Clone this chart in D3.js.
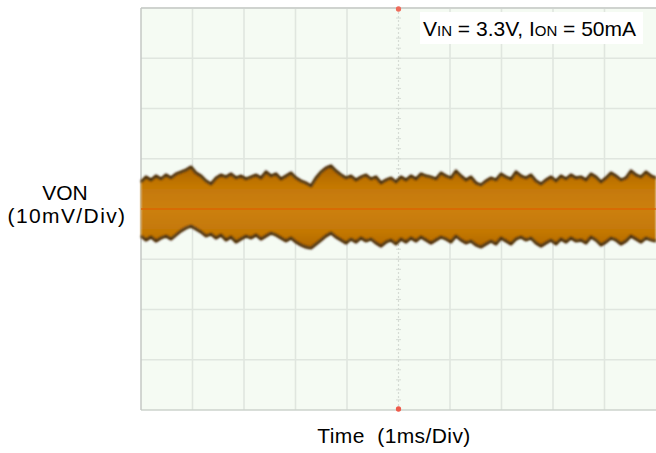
<!DOCTYPE html>
<html>
<head>
<meta charset="utf-8">
<script src="https://cdn.jsdelivr.net/npm/d3@7"></script>
<style>
  html, body { margin: 0; padding: 0; background: #ffffff; }
  svg { display: block; }
  text { font-family: "Liberation Sans", Arial, sans-serif; fill: #000; }
</style>
</head>
<body>
<svg id="chart" width="656" height="453"></svg>
<script>
// Scope screen: 10 horizontal divisions (1 ms/div), 8 vertical divisions (10 mV/div)
const timeDivs = d3.range(0, 11);            // ms
const voltDivs = d3.range(-40, 41, 10);      // mV

// Output ripple envelope (mV, AC-coupled), sampled evenly across the 10 ms sweep
const upperEnvelope = [
  5.4, 6.4, 5.8, 6.6, 6.0, 6.8, 6.2, 7.0, 7.4, 7.8, 8.4, 7.2, 6.6, 5.6, 5.0, 6.2,
  6.8, 6.4, 7.0, 6.2, 6.6, 6.0, 6.4, 6.8, 6.2, 7.4, 6.6, 7.0, 6.0, 6.6, 7.2, 6.2,
  5.6, 5.2, 4.6, 6.2, 7.4, 8.2, 8.6, 7.6, 6.8, 6.2, 6.6, 5.8, 6.4, 6.8, 6.0, 6.4,
  5.2, 5.8, 6.2, 5.4, 6.4, 5.8, 6.6, 6.0, 7.0, 6.6, 6.4, 6.0, 7.2, 6.6, 6.2, 7.6,
  6.6, 5.8, 6.4, 5.2, 4.8, 5.6, 6.2, 5.8, 7.0, 6.4, 6.0, 7.4, 6.6, 6.2, 6.8, 5.6,
  5.0, 5.8, 6.4, 5.6, 6.6, 6.0, 6.8, 6.2, 6.4, 5.8, 7.0, 6.4, 5.4, 6.2, 7.2, 6.6,
  5.8, 6.2, 7.6, 6.8, 6.4, 7.4, 6.6, 6.2
];
const lowerEnvelope = [
  -5.4, -6.2, -5.6, -6.4, -5.8, -5.4, -6.0, -5.2, -4.4, -3.8, -3.4, -4.0, -4.6, -5.4, -5.0, -5.8,
  -5.2, -6.2, -5.6, -6.6, -6.0, -5.4, -5.8, -5.2, -6.0, -5.4, -4.8, -5.2, -5.8, -6.4, -5.8, -6.6,
  -7.2, -7.6, -7.8, -7.0, -6.2, -5.4, -4.8, -5.6, -6.2, -6.8, -6.0, -6.6, -5.8, -6.4, -6.0, -6.8,
  -7.4, -6.6, -6.2, -7.0, -6.0, -6.6, -5.8, -6.4, -5.6, -6.2, -6.8, -6.2, -5.6, -6.0, -6.6, -5.4,
  -6.2, -6.8, -6.4, -7.2, -7.6, -7.0, -6.4, -7.0, -5.8, -6.4, -7.0, -6.0, -5.6, -6.2, -5.8, -6.8,
  -7.4, -6.8, -6.2, -7.0, -6.0, -6.6, -5.8, -6.4, -6.2, -6.8, -5.6, -6.2, -7.2, -6.6, -5.8, -6.2,
  -7.0, -6.4, -5.4, -6.0, -6.6, -5.8, -6.2, -6.4
];

const yLabelLines = ["VON", "(10mV/Div)"];
const xLabel = "Time  (1ms/Div)";

const svg = d3.select("#chart");
const plot = { left: 141, right: 656, top: 8, bottom: 410 };

const x = d3.scaleLinear().domain([0, 10]).range([plot.left, plot.right]);
const y = d3.scaleLinear().domain([-40, 40]).range([plot.bottom, plot.top]);
const n = upperEnvelope.length;
const tAt = d3.scaleLinear().domain([0, n - 1]).range([0, 10]);

const defs = svg.append("defs");
const soft = defs.append("filter").attr("id", "soft")
  .attr("x", "-5%").attr("y", "-20%").attr("width", "110%").attr("height", "140%");
soft.append("feGaussianBlur").attr("stdDeviation", 0.8);

const grad = defs.append("linearGradient").attr("id", "bandFill")
  .attr("gradientUnits", "userSpaceOnUse")
  .attr("x1", 0).attr("x2", 0).attr("y1", y(9)).attr("y2", y(-9));
[[0, "#a96200"], [0.25, "#c47806"], [0.5, "#cc800c"], [0.75, "#c47806"], [1, "#a96200"]]
  .forEach(([o, c]) => grad.append("stop").attr("offset", o).attr("stop-color", c));

// Screen background
svg.append("rect")
  .attr("x", plot.left).attr("y", plot.top)
  .attr("width", plot.right - plot.left).attr("height", plot.bottom - plot.top)
  .attr("fill", "#f5fbf3");

// Graticule
const grid = svg.append("g").attr("stroke", "#e0e6df").attr("stroke-width", 1.6);
grid.selectAll("line.v").data(timeDivs.filter(d => d > 0 && d < 10 && d !== 5)).join("line")
  .attr("class", "v")
  .attr("x1", d => x(d)).attr("x2", d => x(d))
  .attr("y1", plot.top).attr("y2", plot.bottom);
grid.selectAll("line.h").data(voltDivs.filter(d => d > -40 && d < 40)).join("line")
  .attr("class", "h")
  .attr("x1", plot.left).attr("x2", plot.right)
  .attr("y1", d => y(d)).attr("y2", d => y(d));

// Centre axis with minor ticks (5 per division)
const centre = svg.append("g").attr("stroke", "#d6dcd5");
centre.append("line")
  .attr("x1", x(5)).attr("x2", x(5)).attr("y1", plot.top).attr("y2", plot.bottom)
  .attr("stroke-width", 1.2).attr("stroke-dasharray", "2,2");
centre.selectAll("line.mt").data(d3.range(-40, 40.1, 2)).join("line")
  .attr("class", "mt")
  .attr("x1", x(5) - 2.5).attr("x2", x(5) + 2.5)
  .attr("y1", d => y(d)).attr("y2", d => y(d))
  .attr("stroke-width", 1);

// Screen border
svg.append("line").attr("x1", plot.left).attr("x2", plot.right)
  .attr("y1", plot.top).attr("y2", plot.top).attr("stroke", "#cfd3cf").attr("stroke-width", 2);
svg.append("line").attr("x1", plot.left).attr("x2", plot.right)
  .attr("y1", plot.bottom).attr("y2", plot.bottom).attr("stroke", "#cdd3cc").attr("stroke-width", 1.5);
svg.append("line").attr("x1", plot.left).attr("x2", plot.left)
  .attr("y1", plot.top).attr("y2", plot.bottom).attr("stroke", "#c4c8c4").attr("stroke-width", 1.5);

// Trigger markers
svg.append("path").attr("d", d3.symbol(d3.symbolCircle, 22)())
  .attr("transform", `translate(${x(5)},${plot.top + 1})`).attr("fill", "#ee6a5a");
svg.append("path").attr("d", d3.symbol(d3.symbolCircle, 22)())
  .attr("transform", `translate(${x(5)},${plot.bottom - 1})`).attr("fill", "#ee5a4a");

// Ripple trace band
const band = d3.area()
  .x((d, i) => x(tAt(i)))
  .y0((d, i) => y(lowerEnvelope[i]))
  .y1(d => y(d));
const edge = env => d3.line().x((d, i) => x(tAt(i))).y(d => y(d))(env);

const trace = svg.append("g");
trace.append("path").datum(upperEnvelope)
  .attr("d", band).attr("fill", "url(#bandFill)").attr("filter", "url(#soft)");
trace.append("path").attr("d", edge(upperEnvelope))
  .attr("fill", "none").attr("stroke", "#3e2300").attr("stroke-width", 2.5)
  .attr("filter", "url(#soft)");
trace.append("path").attr("d", edge(lowerEnvelope))
  .attr("fill", "none").attr("stroke", "#3e2300").attr("stroke-width", 2.5)
  .attr("filter", "url(#soft)");
trace.append("line")
  .attr("x1", plot.left).attr("x2", plot.right)
  .attr("y1", y(0)).attr("y2", y(0))
  .attr("stroke", "#de6000").attr("stroke-width", 1.3).attr("opacity", 0.85);

// Conditions annotation
svg.append("rect").attr("x", 420).attr("y", 12).attr("width", 223).attr("height", 32)
  .attr("fill", "#ffffff");
const note = svg.append("text").attr("x", 423).attr("y", 36).attr("font-size", 21);
note.append("tspan").text("V");
note.append("tspan").attr("font-size", 15).text("IN");
note.append("tspan").text(" = 3.3V, I");
note.append("tspan").attr("font-size", 15).text("ON");
note.append("tspan").text(" = 50mA");

// Axis titles
svg.append("text").attr("x", 65).attr("y", 200)
  .attr("text-anchor", "middle").attr("font-size", 21)
  .selectAll("tspan").data(yLabelLines).join("tspan")
  .attr("x", (d, i) => i === 0 ? 65 : 67)
  .attr("letter-spacing", (d, i) => i === 0 ? 0 : 1.4)
  .attr("dy", (d, i) => i === 0 ? 0 : 23).text(d => d);
svg.append("text").attr("x", 394).attr("y", 443)
  .attr("text-anchor", "middle").attr("font-size", 21)
  .attr("letter-spacing", 0.4)
  .attr("xml:space", "preserve").style("white-space", "pre")
  .text(xLabel);
</script>
</body>
</html>
